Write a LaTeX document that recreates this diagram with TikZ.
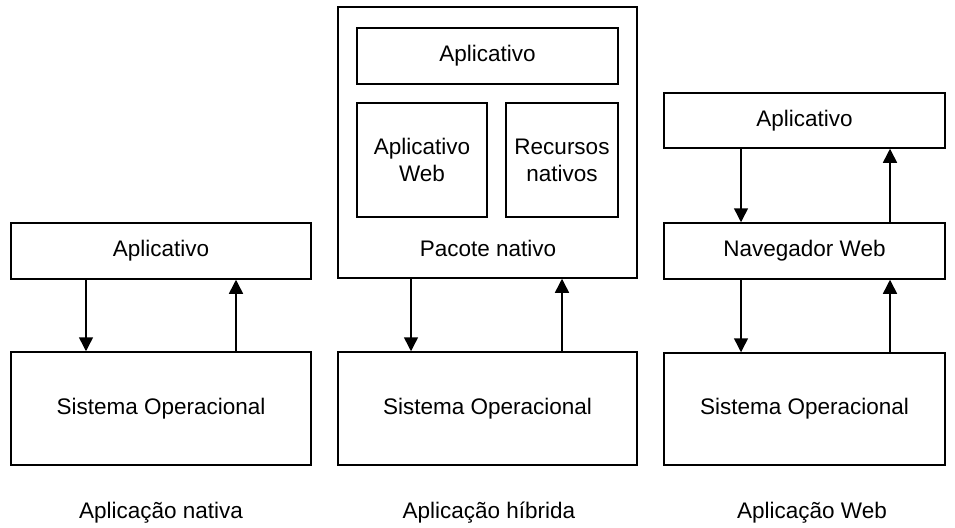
\documentclass[tikz,border=0pt]{standalone}
\usepackage{fontspec}
\setmainfont{Liberation Sans}
\usetikzlibrary{arrows.meta}
\begin{document}
\begin{tikzpicture}[x=1pt,y=-1pt,
  every node/.style={font=\fontsize{22.5}{27}\selectfont},
  box/.style={draw, line width=1.5pt, inner sep=0pt, align=center},
  arr/.style={line width=1.5pt, -{Triangle[length=14pt,width=14pt]}},
  caption/.style={inner sep=0pt, anchor=base}]
\useasboundingbox (0,0) rectangle (955,527);

% Native application
\node[box, minimum width=300pt, minimum height=56pt] (a1) at (161,251) {Aplicativo};
\node[box, minimum width=300pt, minimum height=113pt] (s1) at (161,408.5) {Sistema Operacional};
\coordinate (d1) at (86,0);
\coordinate (u1) at (236,0);
\draw[arr] (a1.south -| d1) -- (s1.north -| d1);
\draw[arr] (s1.north -| u1) -- (a1.south -| u1);
\node[caption] (c1) at (161,518) {Aplicação nativa};

% Hybrid application
\node[box, minimum width=299pt, minimum height=271pt] (p2) at (487.5,142.5) {};
\node[box, minimum width=261pt, minimum height=56pt] (a2) at (487.5,56) {Aplicativo};
\node[box, minimum width=130pt, minimum height=114pt] (w2) at (422,160) {Aplicativo\\Web};
\node[box, minimum width=112pt, minimum height=114pt] (r2) at (562,160) {Recursos\\nativos};
\node[caption] (l2) at (488,256) {Pacote nativo};
\node[box, minimum width=299pt, minimum height=113pt] (s2) at (487.5,408.5) {Sistema Operacional};
\coordinate (d2) at (411,0);
\coordinate (u2) at (562,0);
\draw[arr] (p2.south -| d2) -- (s2.north -| d2);
\draw[arr] (s2.north -| u2) -- (p2.south -| u2);
\node[caption] (c2) at (489,518) {Aplicação híbrida};

% Web application
\node[box, minimum width=281pt, minimum height=55pt] (a3) at (804.5,120.5) {Aplicativo};
\node[box, minimum width=281pt, minimum height=56pt] (n3) at (804.5,251) {Navegador Web};
\node[box, minimum width=281pt, minimum height=112pt] (s3) at (804.5,409) {Sistema Operacional};
\coordinate (d3) at (741,0);
\coordinate (u3) at (890,0);
\draw[arr] (a3.south -| d3) -- (n3.north -| d3);
\draw[arr] (n3.north -| u3) -- (a3.south -| u3);
\draw[arr] (n3.south -| d3) -- (s3.north -| d3);
\draw[arr] (s3.north -| u3) -- (n3.south -| u3);
\node[caption] (c3) at (812,518) {Aplicação Web};
\end{tikzpicture}
\end{document}
